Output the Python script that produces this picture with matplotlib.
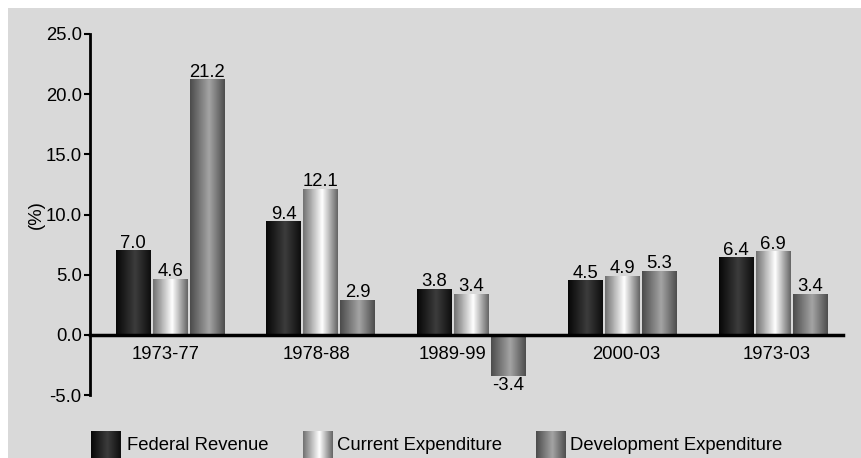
import numpy as np
import matplotlib.pyplot as plt
from matplotlib.colors import LinearSegmentedColormap
from matplotlib.patches import Rectangle
from matplotlib.transforms import offset_copy

# Growth rates (%) by period
periods = ['1973-77', '1978-88', '1989-99', '2000-03', '1973-03']
federal_revenue = [7.0, 9.4, 3.8, 4.5, 6.4]
current_expenditure = [4.6, 12.1, 3.4, 4.9, 6.9]
development_expenditure = [21.2, 2.9, -3.4, 5.3, 3.4]
series_names = ['Federal Revenue', 'Current Expenditure', 'Development Expenditure']

plt.rcParams['font.family'] = ['Liberation Sans', 'DejaVu Sans']
FS = 13.3

# horizontal "cylinder" shading for each series
cmaps = [
    LinearSegmentedColormap.from_list('fr', [(0, '#070707'), (0.55, '#3c3c3c'), (1, '#0e0e0e')]),
    LinearSegmentedColormap.from_list('ce', [(0, '#727272'), (0.55, '#ffffff'), (1, '#666666')]),
    LinearSegmentedColormap.from_list('de', [(0, '#4c4c4c'), (0.55, '#a4a4a4'), (1, '#4e4e4e')]),
]
grad = np.linspace(0, 1, 64).reshape(1, -1)

fig = plt.figure(figsize=(8.62, 4.58), dpi=100, facecolor='white')
fig.patches.append(Rectangle((8 / 862, 0), 1, 1 - 8 / 458, transform=fig.transFigure,
                             facecolor='#d9d9d9', edgecolor='none', zorder=-10))

ax = fig.add_axes([90 / 862, 1 - 395 / 458, 753 / 862, 361 / 458])
ax.set_facecolor('none')

width = 0.232
step = 0.2455
x = np.arange(len(periods))
all_series = [federal_revenue, current_expenditure, development_expenditure]
for k, vals in enumerate(all_series):
    for i, v in enumerate(vals):
        xc = x[i] + (k - 1) * step
        ax.imshow(grad, cmap=cmaps[k], aspect='auto', interpolation='bilinear',
                  extent=[xc - width / 2, xc + width / 2, min(0, v), max(0, v)], zorder=2)
        if v >= 0:
            ax.annotate(f'{v:.1f}', (xc, v), xytext=(0, 2.2), textcoords='offset points',
                        ha='center', va='baseline', fontsize=FS)
        else:
            ax.annotate(f'{v:.1f}', (xc, v), xytext=(0, -1.2), textcoords='offset points',
                        ha='center', va='top', fontsize=FS)

ax.set_xlim(-0.531, 4.464)
ax.set_ylim(-5, 25)
ax.set_yticks(np.arange(-5, 26, 5))
ax.set_yticklabels([f'{t:.1f}' for t in np.arange(-5, 26, 5)], fontsize=FS)
ax.set_xticks([])
ax.tick_params(axis='y', length=4, width=1.5, direction='out', pad=2)
ax.spines['bottom'].set_position(('data', 0))
ax.spines['bottom'].set_linewidth(2.5)
ax.spines['bottom'].set_zorder(3)
ax.spines['left'].set_linewidth(2)
ax.spines['top'].set_visible(False)
ax.spines['right'].set_visible(False)

# category labels sit just under the zero line, nudged as in the original
label_shift_px = [-4.5, -4.5, -19.5, 4, 3.5]
for i, name in enumerate(periods):
    tr = offset_copy(ax.transData, fig=fig, x=label_shift_px[i], y=-11, units='dots')
    ax.text(x[i], 0, name, transform=tr, ha='center', va='top', fontsize=FS)

fig.text(36 / 862, 1 - 215 / 458, '(%)', rotation=90, ha='center', va='center', fontsize=FS)

# legend along the bottom edge
legend_patch_x = [91, 303, 536]
legend_text_x = [127, 337, 570]
for k, name in enumerate(series_names):
    lax = fig.add_axes([legend_patch_x[k] / 862, 0, 30 / 862, 27 / 458])
    lax.imshow(grad, cmap=cmaps[k], aspect='auto', interpolation='bilinear')
    lax.axis('off')
    fig.text(legend_text_x[k] / 862, 1 - 446 / 458, name, fontsize=FS,
             ha='left', va='center')

fig.savefig('out.png', dpi=100, facecolor='white')
